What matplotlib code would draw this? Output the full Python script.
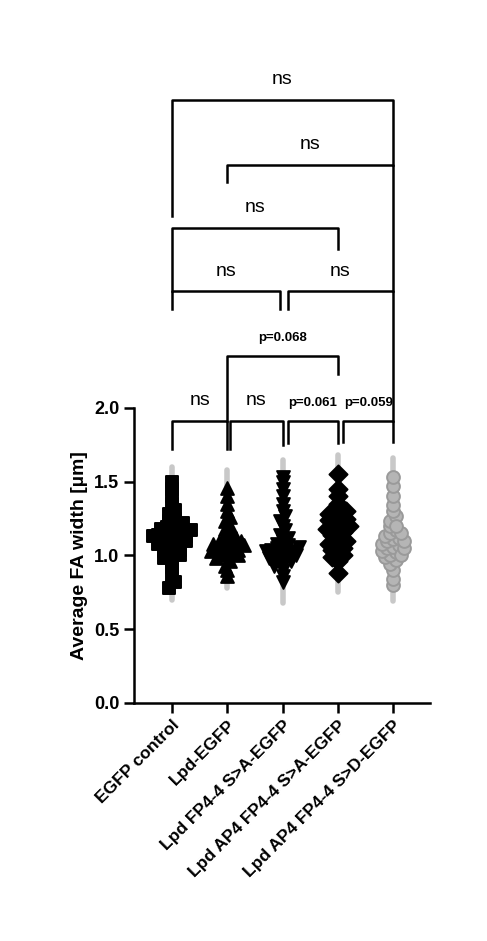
import matplotlib
matplotlib.use("Agg")
import matplotlib.pyplot as plt
import numpy as np

plt.rcParams['font.family'] = ['Liberation Sans', 'DejaVu Sans']

categories = ["EGFP control", "Lpd-EGFP", "Lpd FP4-4 S>A-EGFP",
              "Lpd AP4 FP4-4 S>A-EGFP", "Lpd AP4 FP4-4 S>D-EGFP"]
g0 = [0.78, 0.82, 0.86, 0.92, 0.95, 0.98, 1.0, 1.02, 1.03, 1.05, 1.06, 1.08, 1.09, 1.1, 1.11, 1.12,
      1.13, 1.14, 1.15, 1.15, 1.16, 1.17, 1.18, 1.19, 1.2, 1.21, 1.23, 1.25, 1.28, 1.31, 1.35, 1.4, 1.45, 1.5,
      1.0, 1.04, 1.1, 1.13, 1.17, 1.22]
g1 = [0.86, 0.9, 0.93, 0.96, 0.98, 1.0, 1.01, 1.02, 1.03, 1.04, 1.05, 1.06, 1.07, 1.08, 1.09, 1.1,
      1.11, 1.12, 1.14, 1.16, 1.18, 1.2, 1.23, 1.26, 1.3, 1.35, 1.4, 1.46, 1.0, 1.04, 1.07, 1.1]
g2 = [0.82, 0.86, 0.9, 0.93, 0.95, 0.97, 0.98, 0.99, 1.0, 1.01, 1.02, 1.03, 1.04, 1.05, 1.06, 1.07,
      1.08, 1.1, 1.12, 1.14, 1.17, 1.2, 1.23, 1.27, 1.3, 1.35, 1.4, 1.45, 1.5, 1.53, 0.96, 1.0, 1.03, 1.06]
g3 = [0.88, 0.96, 0.99, 1.02, 1.04, 1.06, 1.08, 1.1, 1.12, 1.14, 1.15, 1.16, 1.18, 1.2, 1.21, 1.22,
      1.24, 1.25, 1.27, 1.28, 1.3, 1.32, 1.35, 1.4, 1.45, 1.55, 1.0, 1.05, 1.1, 1.2, 1.25, 1.3]
g4 = [0.8, 0.84, 0.9, 0.94, 0.97, 0.99, 1.0, 1.02, 1.03, 1.05, 1.06, 1.07, 1.08, 1.1, 1.11, 1.12,
      1.13, 1.15, 1.17, 1.2, 1.23, 1.27, 1.3, 1.34, 1.4, 1.47, 1.53, 1.0, 1.05, 1.1, 1.15, 1.2]
groups = [g0, g1, g2, g3, g4]
ranges = [(0.7, 1.6), (0.78, 1.58), (0.68, 1.65), (0.75, 1.68), (0.69, 1.66)]
markers = ['s', '^', 'v', 'D', 'o']
face = ['black', 'black', 'black', 'black', '#b5b5b5']
edge = ['black', 'black', 'black', 'black', '#9a9a9a']

comps = [
    (0, 1, 1.91, 1.72, 1.72, "ns", 14, False),
    (1.05, 2, 1.91, 1.72, 1.75, "ns", 14, False),
    (2.1, 3, 1.91, 1.76, 1.76, "p=0.061", 9.5, True),
    (3.1, 4, 1.91, 1.77, 1.77, "p=0.059", 9.5, True),
    (1, 3, 2.35, 1.91, 2.23, "p=0.068", 9.5, True),
    (0, 1.95, 2.79, 2.67, 2.67, "ns", 14, False),
    (2.1, 4, 2.79, 2.67, 1.91, "ns", 14, False),
    (0, 3, 3.22, 2.79, 3.08, "ns", 14, False),
    (1, 4, 3.65, 3.53, 2.79, "ns", 14, False),
    (0, 4, 4.09, 3.3, 3.65, "ns", 14, False),
]

fig = plt.figure(figsize=(4.87, 9.41), dpi=100)
ax = fig.add_axes([0.275, 0.253, 0.608, 0.3135])
ax.set_xlim(-0.69, 4.67)
ax.set_ylim(0, 2.0)

for i, (vals, (lo, hi)) in enumerate(zip(groups, ranges)):
    ax.plot([i, i], [lo, hi], color='#c8c8c8', lw=4, zorder=1, solid_capstyle='round')
    vals = np.array(vals)
    bins = np.round(vals / 0.05)
    offs = np.zeros(len(vals))
    for b in np.unique(bins):
        idx = np.where(bins == b)[0]
        n = len(idx)
        offs[idx] = (np.arange(n) - (n - 1) / 2) * 0.1
    ax.scatter(i + offs, vals, marker=markers[i], s=85, c=face[i], edgecolors=edge[i],
               linewidths=1.4, zorder=3)

for (a, b, top, la, lb, lab, fs, bold) in comps:
    ax.plot([a, a, b, b], [la, top, top, lb], color='black', lw=1.8, clip_on=False)
    ax.text((a + b) / 2, top + 0.08, lab, ha='center', va='bottom', fontsize=fs,
            fontweight='bold' if bold else 'normal', clip_on=False)

ax.spines['top'].set_visible(False)
ax.spines['right'].set_visible(False)
for s in ['left', 'bottom']:
    ax.spines[s].set_linewidth(1.8)
ax.set_yticks([0, 0.5, 1.0, 1.5, 2.0])
ax.set_yticklabels(["0.0", "0.5", "1.0", "1.5", "2.0"], fontsize=13, fontweight='bold')
ax.set_xticks(range(5))
ax.set_xticklabels(categories, rotation=45, ha='right', rotation_mode='anchor',
                   fontsize=12.5, fontweight='bold')
ax.tick_params(width=1.8, length=7)
ax.set_ylabel("Average FA width [µm]", fontsize=14, fontweight='bold')

fig.savefig("out.png", dpi=100)
